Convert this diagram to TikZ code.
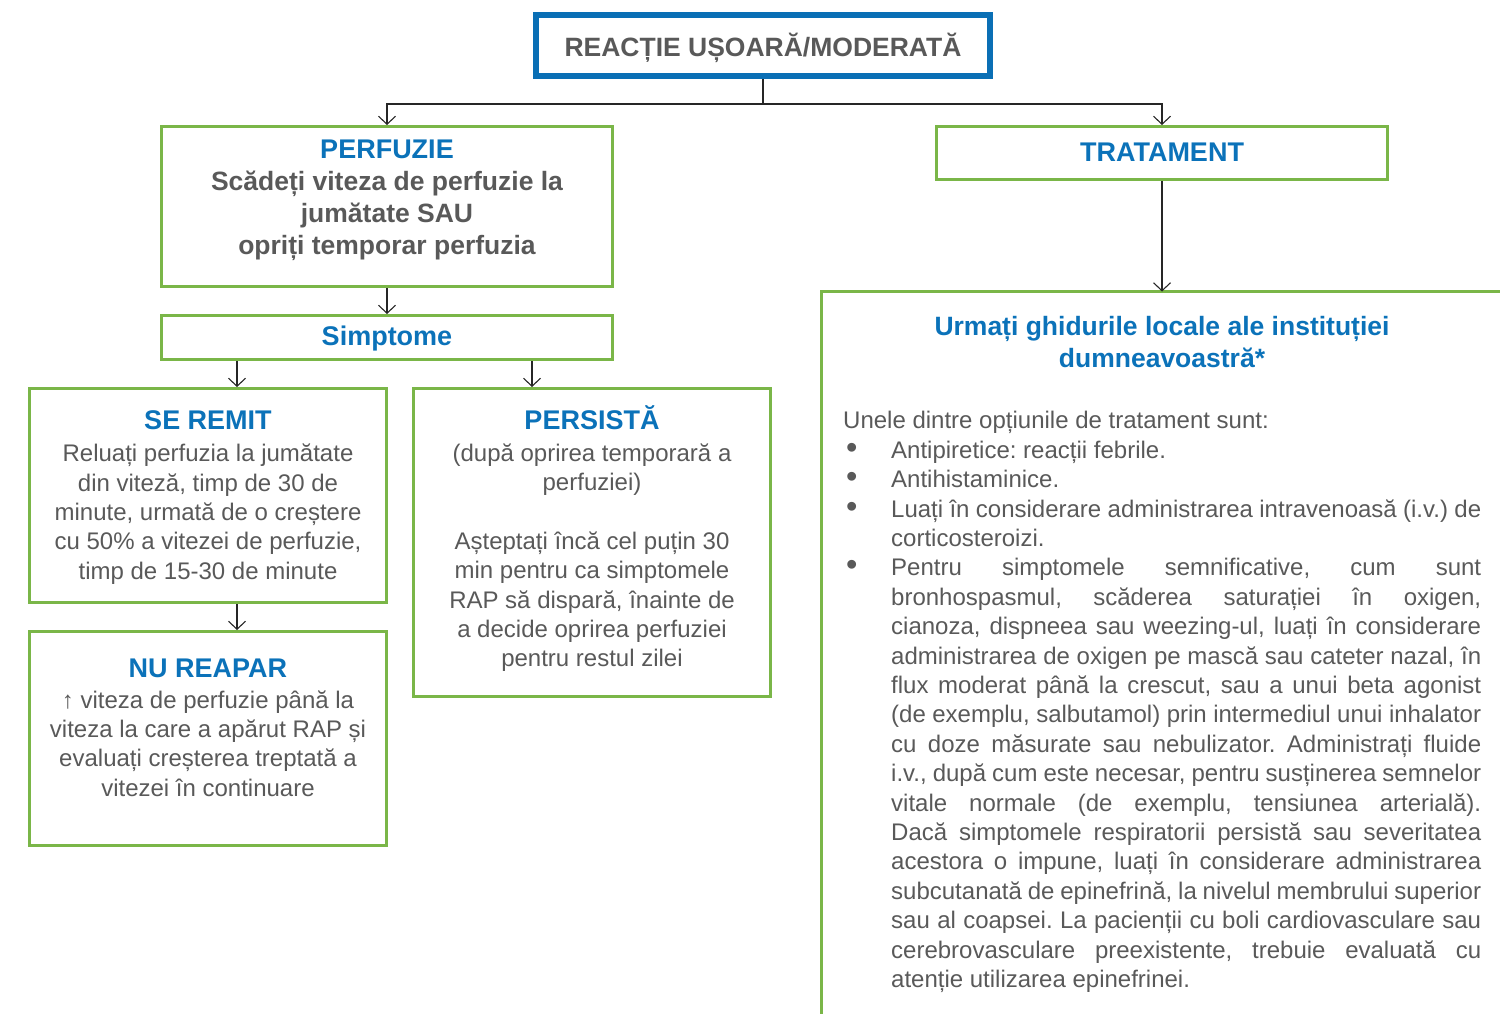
\documentclass[tikz,border=0pt]{standalone}
\usepackage{fontspec}
\setmainfont{Liberation Sans}
\usetikzlibrary{arrows.meta}
\definecolor{cblue}{HTML}{0B72B9}
\definecolor{ctop}{HTML}{0A6FB5}
\definecolor{cgreen}{HTML}{7AB648}
\definecolor{cgray}{HTML}{595959}
\frenchspacing
\newcommand\ttl[1]{{\color{cblue}\bfseries\fontsize{27}{29.4}\selectfont #1}}
\newcommand\mybul{\makebox[48pt][l]{\hspace*{3pt}\scalebox{1.35}{\textbullet}}}
\newcommand\myind{\hspace*{48pt}}
\newcommand\jline[1]{\makebox[590pt][s]{#1}}
\tikzset{
  gbox/.style={draw=cgreen, line width=3pt, rectangle, inner sep=0pt},
  topbox/.style={draw=ctop, line width=6pt, rectangle, inner sep=0pt},
  conn/.style={draw=black!85, line width=1.1pt},
  arr/.style={conn, -{Straight Barb[length=8pt,width=17pt]}},
  txt/.style={align=center, text=cgray, inner sep=0pt, font=\fontsize{24}{29.4}\selectfont\frenchspacing},
  btxt/.style={align=center, text=cgray, inner sep=0pt, font=\bfseries\fontsize{26.5}{32}\selectfont}
}
\begin{document}
\begin{tikzpicture}[x=1pt,y=-1pt]
\useasboundingbox (0,0) rectangle (1500,1014);
% boxes
\node[topbox, minimum width=454pt, minimum height=61pt] (top) at (763,45.5) {};
\node[gbox, minimum width=451pt, minimum height=160pt] (perf) at (387,206.5) {};
\node[gbox, minimum width=451pt, minimum height=44pt] (simpt) at (387,337.5) {};
\node[gbox, minimum width=357pt, minimum height=214pt] (seremit) at (208,495.5) {};
\node[gbox, minimum width=357pt, minimum height=214pt] (nureapar) at (208,738.5) {};
\node[gbox, minimum width=357pt, minimum height=308pt] (persista) at (592,542.5) {};
\node[gbox, minimum width=451pt, minimum height=53pt] (trat) at (1162,153) {};
\coordinate (bigtop) at (1162,291.5);
\coordinate (bigbl) at (821.5,1016);
\coordinate (bigtl) at (821.5,291.5);
\coordinate (bigtr) at (1502,291.5);
\draw[draw=cgreen, line width=3pt] (bigbl) -- (bigtl) -- (bigtr);
% texts
\node[btxt, font=\bfseries\fontsize{26.5}{30}\selectfont] (ttop) at (763,48) {REACȚIE UȘOARĂ/MODERATĂ};
\node[btxt] (tperf) at (387,200) {{\color{cblue}\fontsize{27}{32}\selectfont PERFUZIE}\\Scădeți viteza de perfuzie la\\jumătate SAU\\opriți temporar perfuzia};
\node[btxt, font=\bfseries\fontsize{27}{32}\selectfont] (tsimpt) at (387,339) {\color{cblue}Simptome};
\node[txt] (tseremit) at (208,497.5) {\ttl{SE REMIT}\\[2.6pt]Reluați perfuzia la jumătate\\din viteză, timp de 30 de\\minute, urmată de o creștere\\cu 50\% a vitezei de perfuzie,\\timp de 15-30 de minute};
\node[txt] (tnureapar) at (208,727.5) {\ttl{NU REAPAR}\\[1.6pt]↑ viteza de perfuzie până la\\viteza la care a apărut RAP și\\evaluați creșterea treptată a\\vitezei în continuare};
\node[txt] (tpersista) at (592,538.5) {\ttl{PERSISTĂ}\\[2.6pt](după oprirea temporară a\\perfuziei)\\[29.4pt]Așteptați încă cel puțin 30\\min pentru ca simptomele\\RAP să dispară, înainte de\\a decide oprirea perfuziei\\pentru restul zilei};
\node[btxt, font=\bfseries\fontsize{27}{32}\selectfont] (ttrat) at (1162,152) {\color{cblue}TRATAMENT};
\node[btxt, text=cblue, font=\bfseries\fontsize{26.5}{32}\selectfont] (thead) at (1162,342) {Urmați ghidurile locale ale instituției\\dumneavoastră*};
\node[txt, align=left, anchor=west] (tbody) at (843,702) {%
Unele dintre opțiunile de tratament sunt:\\
\mybul Antipiretice: reacții febrile.\\
\mybul Antihistaminice.\\
\mybul \jline{Luați în considerare administrarea intravenoasă (i.v.) de}\\
\myind corticosteroizi.\\
\mybul \jline{Pentru simptomele semnificative, cum sunt}\\
\myind \jline{bronhospasmul, scăderea saturației în oxigen,}\\
\myind \jline{cianoza, dispneea sau weezing-ul, luați în considerare}\\
\myind \jline{administrarea de oxigen pe mască sau cateter nazal, în}\\
\myind \jline{flux moderat până la crescut, sau a unui beta agonist}\\
\myind \jline{(de exemplu, salbutamol) prin intermediul unui inhalator}\\
\myind \jline{cu doze măsurate sau nebulizator. Administrați fluide}\\
\myind \jline{i.v., după cum este necesar, pentru susținerea semnelor}\\
\myind \jline{vitale normale (de exemplu, tensiunea arterială).}\\
\myind \jline{Dacă simptomele respiratorii persistă sau severitatea}\\
\myind \jline{acestora o impune, luați în considerare administrarea}\\
\myind \jline{subcutanată de epinefrină, la nivelul membrului superior}\\
\myind \jline{sau al coapsei. La pacienții cu boli cardiovasculare sau}\\
\myind \jline{cerebrovasculare preexistente, trebuie evaluată cu}\\
\myind atenție utilizarea epinefrinei.};
% connectors
\coordinate (j) at (763,104);
\coordinate (xa) at (237,0);
\coordinate (xb) at (532,0);
\draw[conn] (top) -- (j);
\draw[arr] (j) -| (perf);
\draw[arr] (j) -| (trat);
\draw[arr] (perf) -- (simpt);
\draw[arr] (simpt.south -| xa) -- (seremit.north -| xa);
\draw[arr] (simpt.south -| xb) -- (persista.north -| xb);
\draw[arr] (seremit.south -| xa) -- (nureapar.north -| xa);
\draw[arr] (trat) -- (bigtop);
\end{tikzpicture}
\end{document}
